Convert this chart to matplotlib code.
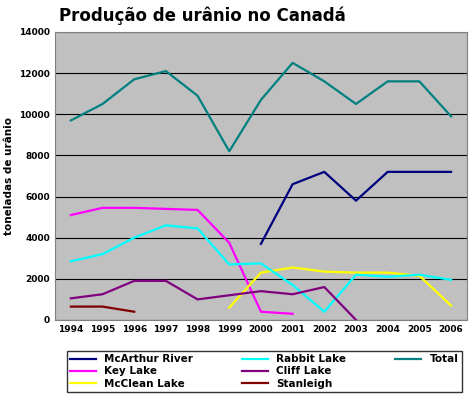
import matplotlib
matplotlib.use("Agg")
import matplotlib.pyplot as plt
from matplotlib.lines import Line2D

years = [1994,1995,1996,1997,1998,1999,2000,2001,2002,2003,2004,2005,2006]
total = [9700,10500,11700,12100,10900,8200,10700,12500,11600,10500,11600,11600,9900]
mcarthur_years = [2000,2001,2002,2003,2004,2005,2006]
mcarthur = [3700,6600,7200,5800,7200,7200,7200]
key_years = [1994,1995,1996,1997,1998,1999,2000,2001]
key_lake = [5100,5450,5450,5400,5350,3750,400,300]
rabbit = [2850,3200,4000,4600,4450,2700,2750,1700,400,2200,2100,2200,1950]
cliff_years = years[:10]
cliff = [1050,1250,1900,1900,1000,1200,1400,1250,1600,0]
mcclean_years = [1999,2000,2001,2002,2003,2004,2005,2006]
mcclean = [600,2300,2550,2350,2300,2300,2150,700]
stan_years = [1994,1995,1996]
stanleigh = [650,650,400]

fig = plt.figure(figsize=(4.74,4.05), dpi=100)
ax = fig.add_axes([0.116,0.21,0.869,0.711])
ax.set_facecolor('#c0c0c0')
idx = {y:i for i,y in enumerate(years)}
def X(ys): return [idx[y] for y in ys]
lw=1.6
h1,=ax.plot(X(mcarthur_years), mcarthur, color='#000080', lw=lw, label='McArthur River')
h2,=ax.plot(X(key_years), key_lake, color='#ff00ff', lw=lw, label='Key Lake')
h3,=ax.plot(X(mcclean_years), mcclean, color='#ffff00', lw=lw, label='McClean Lake')
h4,=ax.plot(X(years), rabbit, color='#00ffff', lw=lw, label='Rabbit Lake')
h5,=ax.plot(X(cliff_years), cliff, color='#800080', lw=lw, label='Cliff Lake')
h6,=ax.plot(X(stan_years), stanleigh, color='#800000', lw=lw, label='Stanleigh')
h7,=ax.plot(X(years), total, color='#008080', lw=lw, label='Total')
ax.set_xlim(-0.5, len(years)-0.5)
ax.set_ylim(0,14000)
ax.set_yticks(range(0,14001,2000))
ax.yaxis.grid(True, color='black', lw=0.8)
ax.set_axisbelow(True)
ax.set_xticks(range(len(years)))
ax.set_xticklabels([str(y) for y in years])
ax.tick_params(labelsize=6.5, length=0)
for t in ax.get_xticklabels()+ax.get_yticklabels(): t.set_fontweight('bold')
ax.set_ylabel('toneladas de urânio', fontsize=7.5, fontweight='bold')
for s in ax.spines.values(): s.set_color('#808080')
fig.text(0.125,0.962,'Produção de urânio no Canadá', fontsize=12, fontweight='bold', va='center')
blank = Line2D([], [], color='none')
handles = [h1,h2,h3,h4,h5,h6,h7,blank,blank]
labels = [h.get_label() for h in [h1,h2,h3,h4,h5,h6,h7]] + ['','']
leg = fig.legend(handles=handles, labels=labels, loc='lower left', bbox_to_anchor=(0.13,0.02,0.855,0.13),
                 mode='expand', ncol=3, fontsize=7.5, frameon=True, fancybox=False,
                 edgecolor='black', handlelength=2.5, borderpad=0.3, labelspacing=0.2)
for t in leg.get_texts(): t.set_fontweight('bold')
fig.savefig('out.png', dpi=100)
